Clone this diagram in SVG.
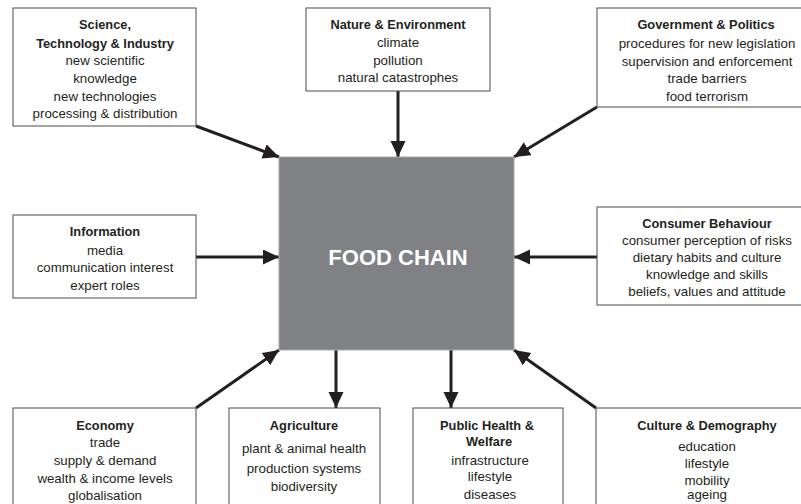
<svg xmlns="http://www.w3.org/2000/svg" width="801" height="504" viewBox="0 0 801 504">
  <style>
    .box { fill: #ffffff; stroke: #4a4a4a; stroke-width: 1; }
    .core { fill: #808184; stroke: #a7a7a9; stroke-width: 1; }
    text { font-family: "Liberation Sans", Arial, sans-serif; fill: #231f20; text-anchor: middle; }
    .t { font-weight: bold; font-size: 12.8px; }
    .b { font-size: 13.3px; }
    .core-label { font-weight: bold; font-size: 22px; fill: #ffffff; }
    .link { stroke: #231f20; stroke-width: 3; fill: none; marker-end: url(#arrow); }
  </style>
  <defs>
    <marker id="arrow" markerUnits="userSpaceOnUse" markerWidth="18" markerHeight="16" refX="16" refY="7.5" orient="auto">
      <path d="M0,0 L16,7.5 L0,15 Z" fill="#231f20"/>
    </marker>
  </defs>

  <rect width="801" height="504" fill="#ffffff"/>

  <!-- connectors -->
  <g id="connectors">
    <path class="link" d="M196,126 L279,157"/>
    <path class="link" d="M398,91 L398,157"/>
    <path class="link" d="M597,107 L514,157"/>
    <path class="link" d="M196,257 L279,257"/>
    <path class="link" d="M597,257 L514,257"/>
    <path class="link" d="M196,408 L279,350"/>
    <path class="link" d="M336,350 L336,408"/>
    <path class="link" d="M451,350 L451,408"/>
    <path class="link" d="M596,408 L514,350"/>
  </g>

  <!-- central node -->
  <g id="food-chain">
    <rect class="core" x="279" y="157" width="235" height="193"/>
    <text class="core-label" x="398" y="265">FOOD CHAIN</text>
  </g>

  <g id="science">
    <rect class="box" x="13" y="8" width="183" height="118"/>
    <text class="t" x="105" y="29">Science,</text>
    <text class="t" x="105" y="47.5">Technology &amp; Industry</text>
    <text class="b" x="105" y="65">new scientific</text>
    <text class="b" x="105" y="83">knowledge</text>
    <text class="b" x="105" y="100.5">new technologies</text>
    <text class="b" x="105" y="118">processing &amp; distribution</text>
  </g>

  <g id="nature">
    <rect class="box" x="306" y="8" width="184" height="83"/>
    <text class="t" x="398" y="29">Nature &amp; Environment</text>
    <text class="b" x="398" y="47">climate</text>
    <text class="b" x="398" y="65">pollution</text>
    <text class="b" x="398" y="82">natural catastrophes</text>
  </g>

  <g id="government">
    <rect class="box" x="597" y="8" width="220" height="99"/>
    <text class="t" x="706" y="29">Government &amp; Politics</text>
    <text class="b" x="707" y="48">procedures for new legislation</text>
    <text class="b" x="707" y="65.5">supervision and enforcement</text>
    <text class="b" x="707" y="83">trade barriers</text>
    <text class="b" x="707" y="100.5">food terrorism</text>
  </g>

  <g id="information">
    <rect class="box" x="13" y="215" width="183" height="83"/>
    <text class="t" x="105" y="236">Information</text>
    <text class="b" x="105" y="254.5">media</text>
    <text class="b" x="105" y="272">communication interest</text>
    <text class="b" x="105" y="290">expert roles</text>
  </g>

  <g id="consumer">
    <rect class="box" x="597" y="207" width="220" height="98"/>
    <text class="t" x="707" y="228">Consumer Behaviour</text>
    <text class="b" x="707" y="245">consumer perception of risks</text>
    <text class="b" x="707" y="262">dietary habits and culture</text>
    <text class="b" x="707" y="279">knowledge and skills</text>
    <text class="b" x="707" y="296">beliefs, values and attitude</text>
  </g>

  <g id="economy">
    <rect class="box" x="13" y="408" width="183" height="110"/>
    <text class="t" x="105" y="430">Economy</text>
    <text class="b" x="105" y="447">trade</text>
    <text class="b" x="105" y="465">supply &amp; demand</text>
    <text class="b" x="105" y="482.5">wealth &amp; income levels</text>
    <text class="b" x="105" y="500">globalisation</text>
  </g>

  <g id="agriculture">
    <rect class="box" x="229" y="408" width="151" height="110"/>
    <text class="t" x="304" y="430">Agriculture</text>
    <text class="b" x="304" y="453">plant &amp; animal health</text>
    <text class="b" x="304" y="472.5">production systems</text>
    <text class="b" x="304" y="491">biodiversity</text>
  </g>

  <g id="public-health">
    <rect class="box" x="413" y="408" width="150" height="110"/>
    <text class="t" x="487" y="430">Public Health &amp;</text>
    <text class="t" x="489" y="446">Welfare</text>
    <text class="b" x="490" y="464.5">infrastructure</text>
    <text class="b" x="490" y="481">lifestyle</text>
    <text class="b" x="490" y="498.5">diseases</text>
  </g>

  <g id="culture">
    <rect class="box" x="596" y="408" width="221" height="110"/>
    <text class="t" x="707" y="430">Culture &amp; Demography</text>
    <text class="b" x="707" y="451">education</text>
    <text class="b" x="707" y="468">lifestyle</text>
    <text class="b" x="707" y="485">mobility</text>
    <text class="b" x="707" y="499">ageing</text>
  </g>
</svg>
